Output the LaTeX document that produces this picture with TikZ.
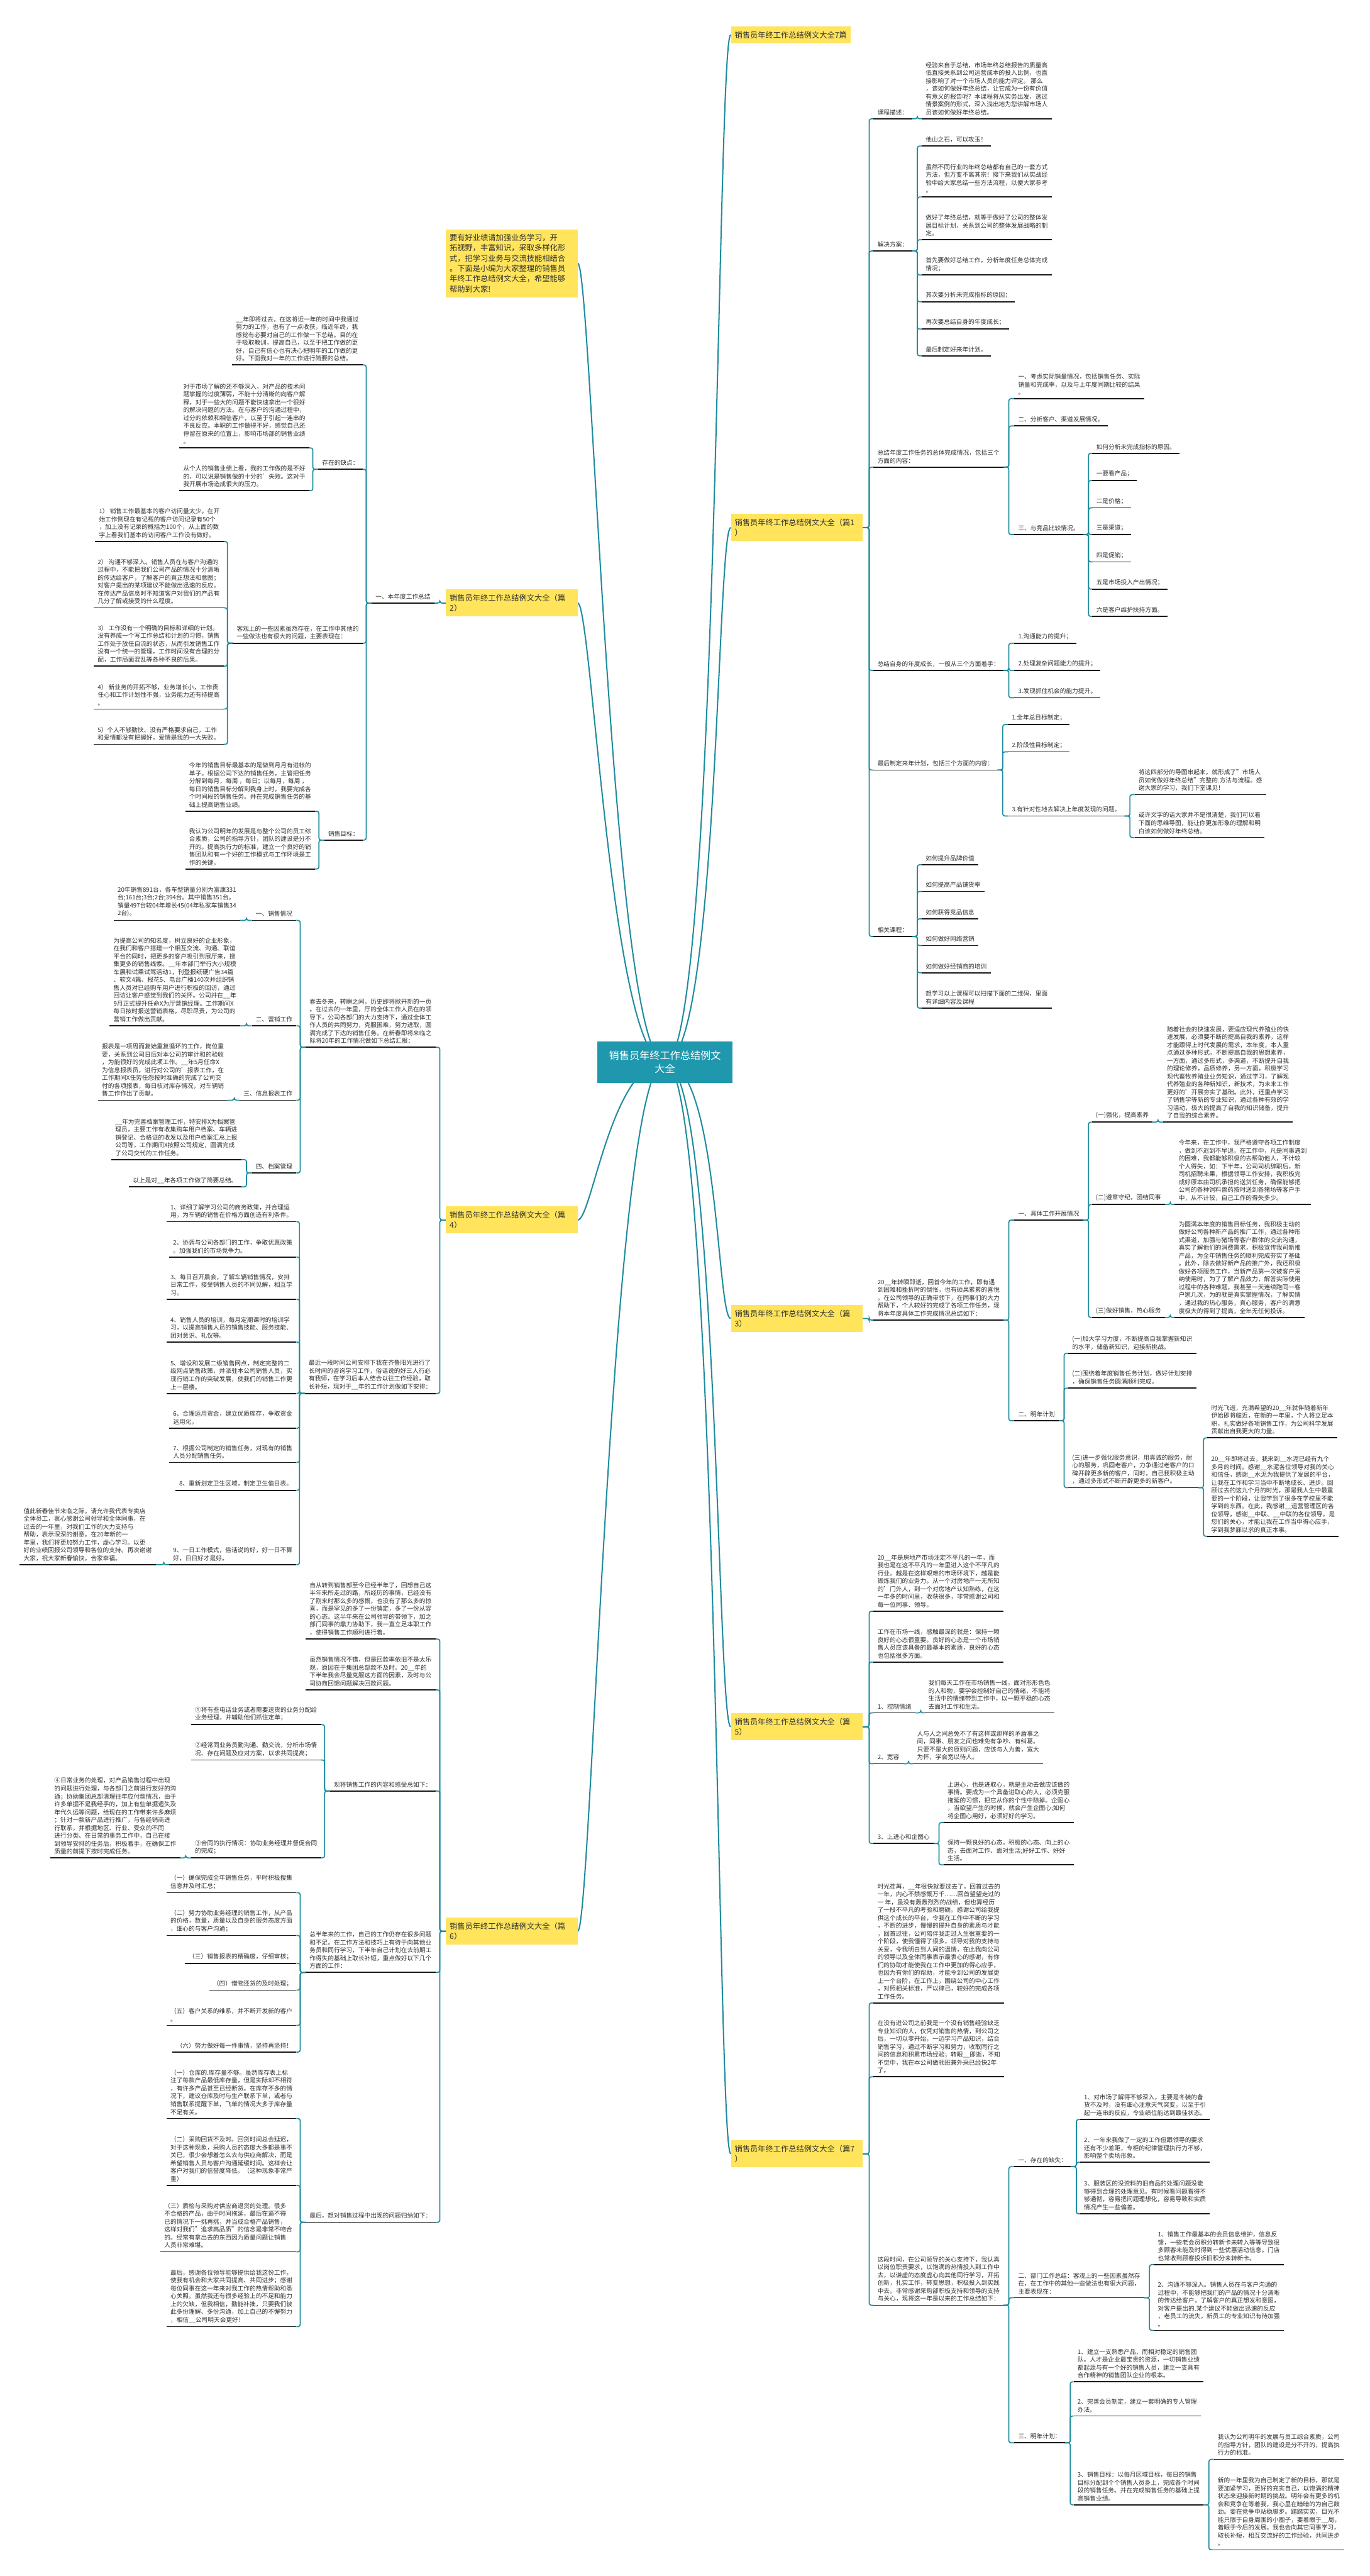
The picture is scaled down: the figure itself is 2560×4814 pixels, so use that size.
\documentclass[tikz,border=0pt]{standalone}
\usepackage{fontspec}
\setmainfont{Noto Sans CJK SC}
\usetikzlibrary{backgrounds}
\definecolor{linkteal}{HTML}{1E8C9E}
\definecolor{rootteal}{HTML}{1F98AE}
\definecolor{hiyellow}{HTML}{FFE45C}
\definecolor{ink}{HTML}{303030}
\newcommand{\leaffont}{\fontsize{5.7pt}{7.35pt}\selectfont}
\newcommand{\branchfont}{\fontsize{7.2pt}{9.6pt}\selectfont}
\newcommand{\rootfont}{\fontsize{9.5pt}{12pt}\selectfont}

\begin{document}
\begin{tikzpicture}[
		x=0.5pt,
		y=-0.5pt,
		ul/.style={draw=black!90,line width=1pt},
		leaf/.style={inner xsep=3.5pt,inner ysep=3.2pt,align=left,text=ink,font=\leaffont,
			append after command={(\tikzlastnode.south west) edge[ul] (\tikzlastnode.south east)}},
		rleaf/.style={leaf,anchor=south west},
		lleaf/.style={leaf,anchor=south east},
		branch/.style={fill=hiyellow,text=ink,font=\branchfont,align=left,inner xsep=3.5pt,inner ysep=4.4pt},
		wbranch/.style={branch,text width=116pt},
		rootnode/.style={fill=rootteal,text=white,font=\rootfont,align=center,inner xsep=11pt,inner ysep=9pt},
		link/.style={draw=linkteal,line width=1pt,rounded corners=2pt},
		rlink/.style={draw=linkteal,line width=1.2pt}
	]
	\useasboundingbox (0,0) rectangle (2560,4814);
	
	% Root and branch boxes
	\node[rootnode] (root) at (1243,1985) {销售员年终工作总结例文\\大全};
	\node[branch,anchor=west] (top) at (1366,65) {销售员年终工作总结例文大全7篇};
	\node[wbranch,anchor=east] (intro) at (1080,492) {要有好业绩请加强业务学习，开\\拓视野，丰富知识，采取多样化形\\式，把学习业务与交流技能相结合\\。下面是小编为大家整理的销售员\\年终工作总结例文大全，希望能够\\帮助到大家!};
	\node[wbranch,anchor=west] (p1) at (1366,986) {销售员年终工作总结例文大全（篇1\\）};
	\node[wbranch,anchor=east] (p2) at (1080,1127) {销售员年终工作总结例文大全（篇\\2）};
	\node[wbranch,anchor=west] (p3) at (1366,2464) {销售员年终工作总结例文大全（篇\\3）};
	\node[wbranch,anchor=east] (p4) at (1080,2280) {销售员年终工作总结例文大全（篇\\4）};
	\node[wbranch,anchor=west] (p5) at (1366,3227) {销售员年终工作总结例文大全（篇\\5）};
	\node[wbranch,anchor=east] (p6) at (1080,3609) {销售员年终工作总结例文大全（篇\\6）};
	\node[wbranch,anchor=west] (p7) at (1366,4025) {销售员年终工作总结例文大全（篇7\\）};
	
	% Part 1
	\node[rleaf] (a1) at (1633,222) {课程描述：};
	\node[rleaf] (a1a) at (1723,222) {经验来自于总结，市场年终总结报告的质量高\\低直接关系到公司运营成本的投入比例，也直\\接影响了对一个市场人员的能力评定。 那么\\，该如何做好年终总结，让它成为一份有价值\\有意义的报告呢？本课程将从实务出发，透过\\情景案例的形式，深入浅出地为您讲解市场人\\员该如何做好年终总结。};
	\node[rleaf] (a2) at (1633,469) {解决方案：};
	\node[rleaf] (a2a) at (1723,273) {他山之石，可以攻玉！};
	\node[rleaf] (a2b) at (1723,368) {虽然不同行业的年终总结都有自己的一套方式\\方法，但万变不离其宗！接下来我们从实战经\\验中给大家总结一些方法流程，以便大家参考\\。};
	\node[rleaf] (a2c) at (1723,448) {做好了年终总结，就等于做好了公司的整体发\\展目标计划，关系到公司的整体发展战略的制\\定。};
	\node[rleaf] (a2d) at (1723,514) {首先要做好总结工作，分析年度任务总体完成\\情况；};
	\node[rleaf] (a2e) at (1723,564) {其次要分析未完成指标的原因；};
	\node[rleaf] (a2f) at (1723,615) {再次要总结自身的年度成长；};
	\node[rleaf] (a2g) at (1723,665) {最后制定好来年计划。};
	\node[rleaf] (a3) at (1633,873) {总结年度工作任务的总体完成情况，包括三个\\方面的内容：};
	\node[rleaf] (a3a) at (1896,745) {一、考虑实际销量情况，包括销售任务、实际\\销量和完成率，以及与上年度同期比较的结果\\。};
	\node[rleaf] (a3b) at (1896,796) {二、分析客户、渠道发展情况。};
	\node[rleaf] (a3c) at (1896,999) {三、与竞品比较情况。};
	\node[rleaf] (a3c1) at (2042,847) {如何分析未完成指标的原因。};
	\node[rleaf] (a3c2) at (2042,898) {一要看产品；};
	\node[rleaf] (a3c3) at (2042,949) {二是价格；};
	\node[rleaf] (a3c4) at (2042,999) {三是渠道；};
	\node[rleaf] (a3c5) at (2042,1050) {四是促销；};
	\node[rleaf] (a3c6) at (2042,1101) {五是市场投入产出情况；};
	\node[rleaf] (a3c7) at (2042,1152) {六是客户维护扶持方面。};
	\node[rleaf] (a4) at (1633,1253) {总结自身的年度成长，一般从三个方面着手：};
	\node[rleaf] (a4a) at (1896,1202) {1.沟通能力的提升；};
	\node[rleaf] (a4b) at (1896,1253) {2.处理复杂问题能力的提升；};
	\node[rleaf] (a4c) at (1896,1304) {3.发现抓住机会的能力提升。};
	\node[rleaf] (a5) at (1633,1439) {最后制定来年计划，包括三个方面的内容：};
	\node[rleaf] (a5a) at (1884,1354) {1.全年总目标制定；};
	\node[rleaf] (a5b) at (1884,1405) {2.阶段性目标制定；};
	\node[rleaf] (a5c) at (1884,1525) {3.有针对性地去解决上年度发现的问题。};
	\node[rleaf] (a5c1) at (2121,1485) {将这四部分的导图串起来，就形成了"市场人\\员如何做好年终总结"完整的.方法与流程。感\\谢大家的学习，我们下堂课见！};
	\node[rleaf] (a5c2) at (2121,1565) {或许文字的话大家并不是很清楚，我们可以看\\下面的思维导图，能让你更加形象的理解和明\\白该如何做好年终总结。};
	\node[rleaf] (a6) at (1633,1750) {相关课程：};
	\node[rleaf] (a6a) at (1723,1616) {如何提升品牌价值};
	\node[rleaf] (a6b) at (1723,1666) {如何提高产品铺货率};
	\node[rleaf] (a6c) at (1723,1717) {如何获得竞品信息};
	\node[rleaf] (a6d) at (1723,1767) {如何做好网络营销};
	\node[rleaf] (a6e) at (1723,1818) {如何做好经销商的培训};
	\node[rleaf] (a6f) at (1723,1884) {想学习以上课程可以扫描下面的二维码，里面\\有详细内容及课程};
	
	% Part 3
	\node[rleaf] (c1) at (1633,2467) {20\_\_年转瞬即逝，回首今年的工作，即有遇\\到困难和挫折时的惆怅，也有硕果累累的喜悦\\。在公司领导的正确带领下，在同事们的大力\\帮助下，个人较好的完成了各项工作任务，现\\将本年度具体工作完成情况总结如下：};
	\node[rleaf] (c1a) at (1896,2280) {一、具体工作开展情况};
	\node[rleaf] (c1a1) at (2041,2097) {(一)强化，提高素养};
	\node[rleaf] (c1a1x) at (2174,2097) {随着社会的快速发展，要适应现代养殖业的快\\速发展，必须要不断的提高自我的素养，这样\\才能跟得上时代发展的需求，本年度，本人重\\点通过多种形式，不断提高自我的思想素养，\\一方面，通过多形式，多渠道，不断提升自我\\的理论修养，品质修养，另一方面，积极学习\\现代畜牧养殖业业务知识，通过学习，了解现\\代养殖业的各种新知识，新技术，为未来工作\\更好的'开展夯实了基础。此外，还重点学习\\了销售学等新的专业知识，通过各种有效的学\\习活动，极大的提高了自我的知识储备，提升\\了自我的综合素养。};
	\node[rleaf] (c1a2) at (2041,2251) {(二)遵章守纪，团结同事};
	\node[rleaf] (c1a2x) at (2196,2251) {今年来，在工作中，我严格遵守各项工作制度\\，做到不迟到不早退。在工作中，凡是同事遇到\\的困难，我都能够积极的去帮助他人，不计较\\个人得失，如：下半年，公司司机辞职后，新\\司机招聘未果，根据领导工作安排，我积极完\\成好原本由司机承担的送货任务，确保能够把\\公司的各种饲料兽药按时送到各猪场等客户手\\中，从不计较，自己工作的得失多少。};
	\node[rleaf] (c1a3) at (2041,2462) {(三)做好销售，热心服务};
	\node[rleaf] (c1a3x) at (2196,2462) {为圆满本年度的销售目标任务，我积极主动的\\做好公司各种新产品的推广工作，通过各种形\\式渠道，加强与猪场等客户群体的交流沟通，\\真实了解他们的消费需求，积极宣传我司新推\\产品，为全年销售任务的顺利完成夯实了基础\\。此外，除去做好新产品的推广外，我还积极\\做好各项服务工作，当新产品第一次被客户采\\纳使用时，为了了解产品效力，解答实际使用\\过程中的各种难题，我甚至一天连续跑同一客\\户家几次，为的就是真实掌握情况，了解实情\\，通过我的热心服务，真心服务，客户的满意\\度极大的得到了提高，全年无任何投诉。};
	\node[rleaf] (c1b) at (1896,2655) {二、明年计划};
	\node[rleaf] (c1b1) at (1997,2529) {(一)加大学习力度，不断提高自我掌握新知识\\的水平，储备新知识，迎接新挑战。};
	\node[rleaf] (c1b2) at (1997,2594) {(二)围绕着年度销售任务计划，做好计划安排\\，确保销售任务圆满顺利完成。};
	\node[rleaf] (c1b3) at (1997,2780) {(三)进一步强化服务意识，用真诚的服务，耐\\心的服务，巩固老客户，力争通过老客户的口\\碑开辟更多新的客户，同时，自己我积极主动\\，通过多形式不断开辟更多的新客户。};
	\node[rleaf] (c1b3a) at (2257,2687) {时光飞逝，充满希望的20\_\_年就伴随着新年\\伊始即将临近，在新的一年里，个人将立足本\\职，扎实做好各项销售工作，为公司科学发展\\贡献出自我更大的力量。};
	\node[rleaf] (c1b3b) at (2257,2871) {20\_\_年即将过去，我来到\_\_水泥已经有九个\\多月的时间。感谢\_\_水泥各位领导对我的关心\\和信任，感谢\_\_水泥为我提供了发展的平台，\\让我在工作和学习当中不断地成长、进步。回\\顾过去的这九个月的时光，那是我人生中最重\\要的一个阶段，让我学到了很多在学校里不能\\学到的东西。在此，我感谢\_\_运营管理区的各\\位领导，感谢\_\_中联、\_\_中联的各位领导，是\\您们的关心，才能让我在工作当中得心应手，\\学到我梦寐以求的真正本事。};
	
	% Part 5
	\node[rleaf] (e1) at (1633,3011) {20\_\_年是房地产市场注定不平凡的一年，而\\我也是在这不平凡的一年里进入这个不平凡的\\行业。越是在这样艰难的市场环境下，越是能\\锻炼我们的业务力。从一个对房地产一无所知\\的'门外人，到一个对房地产认知熟练，在这\\一年多的时间里，收获很多，非常感谢公司和\\每一位同事、领导。};
	\node[rleaf] (e2) at (1633,3106) {工作在市场一线，感触最深的就是：保持一颗\\良好的心态很重要。良好的心态是一个市场销\\售人员应该具备的最基本的素质，良好的心态\\也包括很多方面。};
	\node[rleaf] (e3) at (1633,3201) {1、控制情绪};
	\node[rleaf] (e3a) at (1728,3201) {我们每天工作在市场销售一线，面对形形色色\\的人和物，要学会控制好自己的情绪，不能将\\生活中的情绪带到工作中，以一颗平稳的心态\\去面对工作和生活。};
	\node[rleaf] (e4) at (1633,3296) {2、宽容};
	\node[rleaf] (e4a) at (1707,3296) {人与人之间总免不了有这样或那样的矛盾事之\\间，同事、朋友之间也难免有争吵、有纠葛。\\只要不是大的原则问题，应该与人为善，宽大\\为怀，学会宽以待人。};
	\node[rleaf] (e5) at (1633,3445) {3、上进心和企图心};
	\node[rleaf] (e5a) at (1764,3406) {上进心，也是进取心，就是主动去做应该做的\\事情。要成为一个具备进取心的人，必须克服\\拖延的习惯，把它从你的个性中除掉。企图心\\，当欲望产生的时候，就会产生企图心;如何\\将企图心用好，必须好好的学习。};
	\node[rleaf] (e5b) at (1764,3485) {保持一颗良好的心态，积极的心态、向上的心\\态，去面对工作、面对生活;好好工作、好好\\生活。};
	
	% Part 7
	\node[rleaf] (g1) at (1633,3743) {时光荏苒，\_\_年很快就要过去了，回首过去的\\一年，内心不禁感慨万千……回首望望走过的\\一 年，虽没有轰轰烈烈的战绩，但也算经历\\了一段不平凡的考验和磨砺。感谢公司给我提\\供这个成长的平台，令我在工作中不断的学习\\，不断的进步，慢慢的提升自身的素质与才能\\，回首过往，公司陪伴我走过人生很重要的一\\个阶段，使我懂得了很多，领导对我的支持与\\关爱，令我明白到人间的温情，在此我向公司\\的领导以及全体同事表示最衷心的感谢，有你\\们的协助才能使我在工作中更加的得心应手，\\也因为有你们的帮助，才能令到公司的发展更\\上一个台阶，在工作上，围绕公司的中心工作\\，对照相关标准，严以律己，较好的完成各项\\工作任务。};
	\node[rleaf] (g2) at (1633,3881) {在没有进公司之前我是一个没有销售经验缺乏\\专业知识的人，仅凭对销售的热情，到公司之\\后，一切以零开始，一边学习产品知识，结合\\销售学习，通过不断学习和努力，收取同行之\\间的信息和积累市场经验；转眼\_\_即逝，不知\\不觉中，我在本公司做领班兼外采已经快2年\\了。};
	\node[rleaf] (g3) at (1633,4308) {这段时间，在公司领导的关心支持下，我认真\\以岗位职责要求，以饱满的热情投入到工作中\\去，以谦虚的态度虚心向其他同行学习，开拓\\创新，扎实工作，转变思想，积极投入到实践\\中去。非常感谢采购部积极支持和领导的支持\\与关心，现将这一年是以来的工作总结如下：};
	\node[rleaf] (g3a) at (1896,4049) {一、存在的缺失：};
	\node[rleaf] (g3a1) at (2019,3961) {1、对市场了解得不够深入，主要是冬装的备\\货不及时，没有细心注意天气突变，以至于引\\起一连串的反应，令业绩位能达到最佳状态。};
	\node[rleaf] (g3a2) at (2019,4041) {2、一年来我做了一定的工作但跟领导的要求\\还有不少差距，专柜的纪律管理执行力不够，\\影响整个卖场形象。};
	\node[rleaf] (g3a3) at (2019,4137) {3、服装区的没资料的旧商品的处理问题没能\\够得到合理的处理意见。有时候看问题看得不\\够通彻，容易把问题理想化，容易导致和实质\\情况产生一些偏差。};
	\node[rleaf] (g3b) at (1896,4294) {二、部门工作总结：客观上的一些因素虽然存\\在，在工作中的其他一些做法也有很大问题，\\主要表现在：};
	\node[rleaf] (g3b1) at (2157,4232) {1、销售工作最基本的会员信息维护，信息反\\馈，一些老会员积分转新卡未转入等等导致很\\多顾客未能及时得到一些优惠活动信息。门店\\也常收到顾客投诉旧积分未转新卡。};
	\node[rleaf] (g3b2) at (2157,4355) {2、沟通不够深入。销售人员在与客户沟通的\\过程中，不能够把我们的产品的情况十分清晰\\的传达给客户，了解客户的真正想发和意图，\\对客户提出的.某个建议不能做出迅速的反应\\，老员工的流失，新员工的专业知识有待加强\\。};
	\node[rleaf] (g3c) at (1896,4565) {三、明年计划：};
	\node[rleaf] (g3c1) at (2007,4451) {1、建立一支熟悉产品，而相对稳定的销售团\\队。人才是企业最宝贵的资源，一切销售业绩\\都起源与有一个好的销售人员，建立一支具有\\合作精神的销售团队企业的根本。};
	\node[rleaf] (g3c2) at (2007,4515) {2、完善会员制定，建立一套明确的专人管理\\办法。};
	\node[rleaf] (g3c3) at (2007,4681) {3、销售目标：以每月区域目标，每日的销售\\目标分配到个个销售人员身上，完成各个时间\\段的销售任务。并在完成销售任务的基础上提\\高销售业绩。};
	\node[rleaf] (g3c3a) at (2269,4596) {我认为公司明年的发展与员工综合素质，公司\\的指导方针，团队的建设是分不开的，提高执\\行力的标准。};
	\node[rleaf] (g3c3b) at (2269,4765) {新的一年里我为自己制定了新的目标，那就是\\要加紧学习，更好的充实自己，以饱满的精神\\状态来迎接新时期的挑战。明年会有更多的机\\会和竞争在等着我，我心里在暗暗的为自己鼓\\劲。要在竞争中站稳脚步。踏踏实实，目光不\\能只限于自身周围的小圈子，要着眼于\_\_局，\\着眼于今后的发展。我也会向其它同事学习，\\取长补短，相互交流好的工作经验，共同进步\\。};
	
	% Part 2
	\node[lleaf] (b1) at (812,1127) {一、本年度工作总结};
	\node[lleaf] (b1a) at (678,682) {\_\_年即将过去，在这将近一年的时间中我通过\\努力的工作，也有了一点收获，临近年终，我\\感觉有必要对自己的工作做一下总结。目的在\\于吸取教训，提高自己，以至于把工作做的更\\好，自己有信心也有决心把明年的工作做的更\\好。下面我对一年的工作进行简要的总结。};
	\node[lleaf] (b1b) at (678,877) {存在的缺点：};
	\node[lleaf] (b1b1) at (578,837) {对于市场了解的还不够深入，对产品的技术问\\题掌握的过度薄弱，不能十分清晰的向客户解\\释，对于一些大的问题不能快速拿出一个很好\\的解决问题的方法。在与客户的沟通过程中，\\过分的依赖和相信客户，以至于引起一连串的\\不良反应。本职的工作做得不好，感觉自己还\\停留在原来的位置上，影响市场部的销售业绩\\。};
	\node[lleaf] (b1b2) at (578,917) {从个人的销售业绩上看，我的工作做的是不好\\的，可以说是销售做的十分的'失败。这对于\\我开展市场造成很大的压力。};
	\node[lleaf] (b1c) at (678,1202) {客观上的一些因素虽然存在，在工作中其他的\\一些做法也有很大的问题，主要表现在：};
	\node[lleaf] (b1c1) at (418,1012) {1） 销售工作最基本的客户访问量太少。在开\\始工作倒现在有记载的客户访问记录有50个\\，加上没有记录的概括为100个，从上面的数\\字上看我们基本的访问客户工作没有做好。};
	\node[lleaf] (b1c2) at (418,1136) {2） 沟通不够深入。销售人员在与客户沟通的\\过程中，不能把我们公司产品的情况十分清晰\\的传达给客户，了解客户的真正想法和意图；\\对客户提出的某项建议不能做出迅速的反应。\\在传达产品信息时不知道客户对我们的产品有\\几分了解或接受的什么程度。};
	\node[lleaf] (b1c3) at (418,1245) {3） 工作没有一个明确的目标和详细的计划。\\没有养成一个写工作总结和计划的习惯，销售\\工作处于放任自流的状态，从而引发销售工作\\没有一个统一的管理，工作时间没有合理的分\\配，工作局面混乱等各种不良的后果。};
	\node[lleaf] (b1c4) at (418,1325) {4） 新业务的开拓不够，业务增长小，工作责\\任心和工作计划性不强，业务能力还有待提高\\。};
	\node[lleaf] (b1c5) at (418,1391) {5）个人不够勤快、没有严格要求自己，工作\\和爱情都没有把握好，爱情是我的一大失败。};
	\node[lleaf] (b1d) at (678,1570) {销售目标：};
	\node[lleaf] (b1d1) at (589,1516) {今年的销售目标最基本的是做到月月有进帐的\\单子。根据公司下达的销售任务，主管把任务\\分解到每月，每周 ，每日；以每月，每周 ，\\每日的销售目标分解到我身上时，我要完成各\\个时间段的销售任务。并在完成销售任务的基\\础上提高销售业绩。};
	\node[lleaf] (b1d2) at (589,1624) {我认为公司明年的发展是与整个公司的员工综\\合素质，公司的指导方针，团队的建设是分不\\开的。提高执行力的标准，建立一个良好的销\\售团队和有一个好的工作模式与工作环境是工\\作的关键。};
	
	% Part 4
	\node[lleaf] (d1) at (814,1957) {春去冬来，转瞬之间，历史即将掀开新的一页\\。在过去的一年里，厅的全体工作人员在的领\\导下，公司各部门的大力支持下，通过全体工\\作人员的共同努力，克服困难，努力进取，圆\\满完成了下达的销售任务。在新春即将来临之\\际将20年的工作情况做如下总结汇报：};
	\node[lleaf] (d1a) at (554,1720) {一、销售情况};
	\node[lleaf] (d1a1) at (449,1720) {20年销售891台，各车型销量分别为富康331\\台;161台;3台;2台;394台。其中销售351台。\\销量497台较04年增长45(04年私家车销售34\\2台)。};
	\node[lleaf] (d1b) at (554,1917) {二、营销工作};
	\node[lleaf] (d1b1) at (449,1917) {为提高公司的知名度，树立良好的企业形象，\\在我们和客户搭建一个相互交流、沟通、联谊\\平台的同时，把更多的客户吸引到展厅来，搜\\集更多的销售线索。\_\_年本部门举行大小规模\\车展和试乘试驾活动1，刊登报纸硬广告34篇\\、软文4篇、报花5、电台广播140次并组织销\\售人员对已经购车用户进行积极的回访，通过\\回访让客户感觉到我们的关怀。公司并在\_\_年\\9月正式提升任命X为厅营销经理。工作期间X\\每日按时报送营销表格，尽职尽责，为公司的\\营销工作做出贡献。};
	\node[lleaf] (d1c) at (554,2056) {三、信息报表工作};
	\node[lleaf] (d1c1) at (426,2056) {报表是一项周而复始重复循环的工作，岗位重\\要，关系到公司日后对本公司的审计和的验收\\，为能很好的完成此项工作。\_\_年5月任命X\\为信息报表员，进行对公司的'报表工作，在\\工作期间X任劳任怨按时准确的完成了公司交\\付的各项报表，每日核对库存情况，对车辆销\\售工作作出了贡献。};
	\node[lleaf] (d1d) at (554,2192) {四、档案管理};
	\node[lleaf] (d1d1) at (451,2167) {\_\_年为完善档案管理工作，特安排X为档案管\\理员，主要工作有收集购车用户档案、车辆进\\销登记、合格证的收发以及用户档案汇总上报\\公司等，工作期间X按照公司规定，圆满完成\\了公司交代的工作任务。};
	\node[lleaf] (d1d2) at (451,2218) {以上是对\_\_年各项工作做了简要总结。};
	\node[lleaf] (d2) at (814,2604) {最近一段时间公司安排下我在齐鲁阳光进行了\\长时间的咨询学习工作，俗话说的好三人行必\\有我师，在学习后本人结合以往工作经验，取\\长补短，现对于\_\_年的工作计划做如下安排：};
	\node[lleaf] (d2a) at (554,2283) {1、详细了解学习公司的商务政策，并合理运\\用，为车辆的销售在价格方面创造有利条件。};
	\node[lleaf] (d2b) at (554,2349) {2、协调与公司各部门的工作，争取优惠政策\\。加强我们的市场竞争力。};
	\node[lleaf] (d2c) at (554,2428) {3、每日召开晨会，了解车辆销售情况，安排\\日常工作，接受销售人员的不同见解，相互学\\习。};
	\node[lleaf] (d2d) at (554,2508) {4、销售人员的培训，每月定期课时的培训学\\习，以提高销售人员的销售技能、服务技能、\\团对意识、礼仪等。};
	\node[lleaf] (d2e) at (554,2604) {5、增设和发展二级销售网点，制定完整的二\\级网点销售政策，并派驻本公司销售人员，实\\现行销工作的突破发展，使我们的销售工作更\\上一层楼。};
	\node[lleaf] (d2f) at (554,2669) {6、合理运用资金，建立优质库存，争取资金\\运用化。};
	\node[lleaf] (d2g) at (554,2733) {7、根据公司制定的销售任务，对现有的销售\\人员分配销售任务。};
	\node[lleaf] (d2h) at (554,2785) {8、重新划定卫生区域，制定卫生值日表。};
	\node[lleaf] (d2i) at (554,2924) {9、一日工作模式，俗话说的好，好一日不算\\好，日日好才是好。};
	\node[lleaf] (d2i1) at (291,2924) {值此新春佳节来临之际，请允许我代表专卖店\\全体员工，衷心感谢公司领导和全体同事，在\\过去的一年里，对我们工作的大力支持与\\帮助，表示深深的谢意。在20年新的一\\年里，我们将更加努力工作，虚心学习。以更\\好的业绩回报公司领导和各位的支持。再次谢谢\\大家，祝大家新春愉快，合家幸福。};
	
	% Part 6
	\node[lleaf] (f1) at (814,3063) {自从转到销售部至今已经半年了，回想自己这\\半年来所走过的路，所经历的事情，已经没有\\了刚来时那么多的感慨，也没有了那么多的惊\\喜，而是罕见的多了一份镇定，多了一份从容\\的心态。这半年来在公司领导的带领下，加之\\部门同事的鼎力协助下，我一直立足本职工作\\，使得销售工作顺利进行着。};
	\node[lleaf] (f2) at (814,3158) {虽然销售情况不错，但是回款率依旧不是太乐\\观，原因在于集团总部款不及时。20\_\_年的\\下半年我会尽量克服这方面的因素，及时与公\\司协商回馈问题解决回款问题。};
	\node[lleaf] (f3) at (814,3347) {现将销售工作的内容和感受总如下：};
	\node[lleaf] (f3a) at (600,3223) {①将有些电话业务或者需要送货的业务分配给\\业务经理，并辅助他们抓住定单；};
	\node[lleaf] (f3b) at (600,3289) {②经常同业务员勤沟通、勤交流，分析市场情\\况、存在问题及应对方案，以求共同提高；};
	\node[lleaf] (f3c) at (600,3472) {③合同的执行情况：协助业务经理并督促合同\\的完成；};
	\node[lleaf] (f3c1) at (337,3472) {④日常业务的处理，对产品销售过程中出现\\的问题进行处理，与各部门之前进行友好的沟\\通；协助集团总部清理往年应付款情况，由于\\许多单据不是我经手的，加上有些单据遗失及\\年代久远等问题，给现在的工作带来许多麻烦\\；针对一款新产品进行推广，与各经销商进\\行联系，并根据地区、行业、受众的不同\\进行分类、在日常的事务工作中，自己在接\\到领导安排的任务后，积极着手，在确保工作\\质量的前提下按时完成任务。};
	\node[lleaf] (f4) at (814,3686) {总半年来的工作，自己的工作仍存在很多问题\\和不足。在工作方法和技巧上有待于向其他业\\务员和同行学习，下半年自己计划在去前期工\\作得失的基础上取长补短，重点做好以下几个\\方面的工作：};
	\node[lleaf] (f4a) at (554,3537) {（一）确保完成全年销售任务，平时积极搜集\\信息并及时汇总；};
	\node[lleaf] (f4b) at (554,3617) {（二）努力协助业务经理的销售工作，从产品\\的价格，数量，质量以及自身的服务态度方面\\，细心的与客户沟通；};
	\node[lleaf] (f4c) at (554,3669) {（三）销售报表的精确度，仔细审核；};
	\node[lleaf] (f4d) at (554,3719) {（四）借物还货的及时处理；};
	\node[lleaf] (f4e) at (554,3785) {（五）客户关系的维系，并不断开发新的客户\\。};
	\node[lleaf] (f4f) at (554,3835) {（六）努力做好每一件事情，坚持再坚持！};
	\node[lleaf] (f5) at (814,4153) {最后，想对销售过程中出现的问题归纳如下：};
	\node[lleaf] (f5a) at (554,3959) {（一）仓库的.库存量不够。虽然库存表上标\\注了每款产品最低库存量，但是实际却不相符\\，有许多产品甚至已经断货。在库存不多的情\\况下，建议仓库及时与生产联系下单，或者与\\销售联系提醒下单，飞单的情况大多于库存量\\不足有关。};
	\node[lleaf] (f5b) at (554,4084) {（二）采购回货不及时。回货时间总会延迟，\\对于这种现象，采购人员的态度大多都是事不\\关已，很少会想着怎么去与供应商解决，而是\\希望销售人员与客户沟通延缓时间。这样会让\\客户对我们的信誉度降低。（这种现象非常严\\重）};
	\node[lleaf] (f5c) at (554,4208) {（三）质检与采购对供应商退货的处理。很多\\不合格的产品，由于时间拖延，最后在逼不得\\已的情况下一挑再挑，并当成合格产品销售，\\这样对我们"追求高品质"的信念是非常不吻合\\的。经常有拿出去的东西因为质量问题让销售\\人员非常难堪。};
	\node[lleaf] (f5d) at (554,4348) {最后，感谢各位领导能够提供给我这份工作，\\使我有机会和大家共同提高、共同进步；感谢\\每位同事在这一年来对我工作的热情帮助和悉\\心关照。虽然我还有很多经验上的不足和能力\\上的欠缺，但我相信，勤能补拙，只要我们彼\\此多份理解、多份沟通，加上自己的不懈努力\\，相信\_\_公司明天会更好！};
	
	% Connectors, behind the boxes
	\begin{scope}[on background layer]
		\fill[white] (0,0) rectangle (2560,4814);
		\foreach \b in {top,p1,p3,p5,p7}
		\draw[rlink] (root.center) .. controls +(100,0) and +(-26,0) .. (\b.west);
		\foreach \b in {intro,p2,p4,p6}
		\draw[rlink] (root.center) .. controls +(-100,0) and +(26,0) .. (\b.east);
		% branch boxes to their first level
		\foreach \b/\c in {p1/a1,p1/a2,p1/a3,p1/a4,p1/a5,p1/a6,p3/c1,p5/e1,p5/e2,p5/e3,p5/e4,p5/e5,p7/g1,p7/g2,p7/g3}
		\draw[link] (\b.east) -- ++(12,0) |- (\c.south west);
		\foreach \b/\c in {p2/b1,p4/d1,p4/d2,p6/f1,p6/f2,p6/f3,p6/f4,p6/f5}
		\draw[link] (\b.west) -- ++(-11,0) |- (\c.south east);
		% deeper levels, right side
		\foreach \p/\c in {a1/a1a,a2/a2a,a2/a2b,a2/a2c,a2/a2d,a2/a2e,a2/a2f,a2/a2g,
			a3/a3a,a3/a3b,a3/a3c,a3c/a3c1,a3c/a3c2,a3c/a3c3,a3c/a3c4,a3c/a3c5,a3c/a3c6,a3c/a3c7,
			a4/a4a,a4/a4b,a4/a4c,a5/a5a,a5/a5b,a5/a5c,a5c/a5c1,a5c/a5c2,
			a6/a6a,a6/a6b,a6/a6c,a6/a6d,a6/a6e,a6/a6f,
			c1/c1a,c1/c1b,c1a/c1a1,c1a/c1a2,c1a/c1a3,c1a1/c1a1x,c1a2/c1a2x,c1a3/c1a3x,
			c1b/c1b1,c1b/c1b2,c1b/c1b3,c1b3/c1b3a,c1b3/c1b3b,
			e3/e3a,e4/e4a,e5/e5a,e5/e5b,
			g3/g3a,g3/g3b,g3/g3c,g3a/g3a1,g3a/g3a2,g3a/g3a3,g3b/g3b1,g3b/g3b2,
			g3c/g3c1,g3c/g3c2,g3c/g3c3,g3c3/g3c3a,g3c3/g3c3b}
		\draw[link] (\p.south east) -- ++(10,0) |- (\c.south west);
		% deeper levels, left side
		\foreach \p/\c in {b1/b1a,b1/b1b,b1/b1c,b1/b1d,b1b/b1b1,b1b/b1b2,
			b1c/b1c1,b1c/b1c2,b1c/b1c3,b1c/b1c4,b1c/b1c5,b1d/b1d1,b1d/b1d2,
			d1/d1a,d1/d1b,d1/d1c,d1/d1d,d1a/d1a1,d1b/d1b1,d1c/d1c1,d1d/d1d1,d1d/d1d2,
			d2/d2a,d2/d2b,d2/d2c,d2/d2d,d2/d2e,d2/d2f,d2/d2g,d2/d2h,d2/d2i,d2i/d2i1,
			f3/f3a,f3/f3b,f3/f3c,f3c/f3c1,
			f4/f4a,f4/f4b,f4/f4c,f4/f4d,f4/f4e,f4/f4f,
			f5/f5a,f5/f5b,f5/f5c,f5/f5d}
		\draw[link] (\p.south west) -- ++(-10,0) |- (\c.south east);
	\end{scope}
	
\end{tikzpicture}
\end{document}
